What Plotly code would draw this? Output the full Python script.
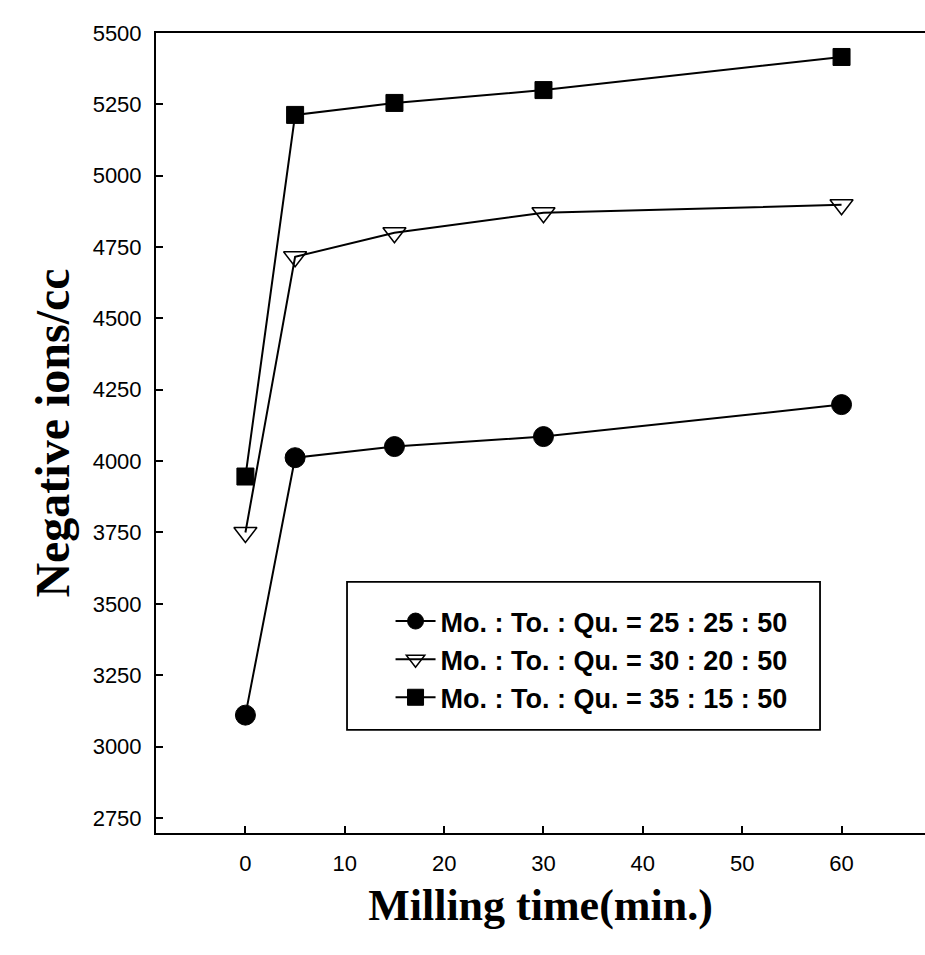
import plotly.graph_objects as go

time_min = [0, 5, 15, 30, 60]
series_names = ["Mo. : To. : Qu. = 25 : 25 : 50",
                "Mo. : To. : Qu. = 30 : 20 : 50",
                "Mo. : To. : Qu. = 35 : 15 : 50"]
ions_25 = [3110, 4012, 4051, 4086, 4198]
ions_30 = [3750, 4716, 4800, 4870, 4898]
ions_35 = [3946, 5213, 5255, 5300, 5416]
y_ticks = [2750, 3000, 3250, 3500, 3750, 4000, 4250, 4500, 4750, 5000, 5250, 5500]
x_ticks = [0, 10, 20, 30, 40, 50, 60]

fig = go.Figure()
styles = [
    dict(symbol="circle", size=20, color="black", line=dict(color="black", width=1)),
    dict(symbol="triangle-down-open", size=20, color="black", line=dict(color="black", width=1.5)),
    dict(symbol="square", size=17, color="black", line=dict(color="black", width=1)),
]
for name, vals, st in zip(series_names, [ions_25, ions_30, ions_35], styles):
    fig.add_trace(go.Scatter(
        x=time_min, y=vals, mode="lines+markers", name="<b>" + name + "</b>",
        line=dict(color="black", width=2), marker=st, cliponaxis=False))

# legend frame
fig.add_shape(type="rect", xref="paper", yref="paper",
              x0=0.2484, x1=0.8635, y0=0.129, y1=0.314,
              line=dict(color="black", width=1.8), fillcolor="rgba(0,0,0,0)", layer="above")

fig.update_layout(
    width=925, height=955,
    margin=dict(l=156, r=0, t=33, b=122),
    plot_bgcolor="white", paper_bgcolor="white",
    font=dict(family="Liberation Sans, Arial", size=22, color="black"),
    showlegend=True,
    legend=dict(x=0.305, y=0.295, xanchor="left", yanchor="top",
                borderwidth=0, bgcolor="rgba(0,0,0,0)",
                font=dict(size=27, family="Liberation Sans, Arial"),
                tracegroupgap=0, itemwidth=40),
)
fig.update_xaxes(
    range=[-9, 68.4], tickvals=x_ticks, ticks="inside", ticklen=7, tickwidth=1.5,
    tickcolor="black", showline=True, linecolor="black", linewidth=2, mirror=True,
    showgrid=False, zeroline=False, ticklabelstandoff=10,
    title=dict(text="<b>Milling time(min.)</b>", standoff=14,
               font=dict(family="Liberation Serif, Times New Roman", size=44)),
)
fig.update_yaxes(
    range=[2697, 5500], tickvals=y_ticks, ticks="inside", ticklen=7, tickwidth=1.5,
    tickcolor="black", showline=True, linecolor="black", linewidth=2, mirror=False,
    showgrid=False, zeroline=False, ticklabelstandoff=8,
    title=dict(text="<b>Negative ions/cc</b>", standoff=8,
               font=dict(family="Liberation Serif, Times New Roman", size=48)),
)
fig.write_html("out.html")
